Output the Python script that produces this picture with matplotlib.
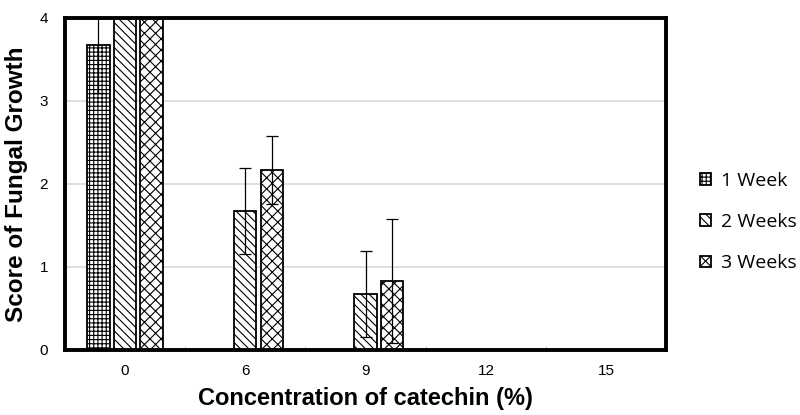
import matplotlib
matplotlib.use('Agg')
import matplotlib.pyplot as plt
import numpy as np

concentrations = ['0', '6', '9', '12', '15']
week_labels = ['1 Week', '2 Weeks', '3 Weeks']
week1 = [3.67, 0, 0, 0, 0]
week2 = [4.0, 1.67, 0.67, 0, 0]
week3 = [4.0, 2.17, 0.83, 0, 0]
week1_err = [0.58, 0, 0, 0, 0]
week2_err = [0, 0.52, 0.52, 0, 0]
week3_err = [0, 0.41, 0.75, 0, 0]


def make_plot():
    plt.rcParams['hatch.linewidth'] = 0.8
    fig = plt.figure(figsize=(8, 4.15), dpi=100)
    ax = fig.add_axes([0.081, 0.157, 0.752, 0.8])

    x = np.arange(len(concentrations))
    width = 0.185
    offset = 0.22
    series = [week1, week2, week3]
    errors = [week1_err, week2_err, week3_err]
    hatches = ['++++', '\\\\\\\\', 'xxx']
    for i in range(3):
        ax.bar(x + (i - 1) * offset, series[i], width, color='white', edgecolor='black',
               hatch=hatches[i], linewidth=1.3, label=week_labels[i], zorder=2)
        yerr = np.array(errors[i])
        mask = yerr > 0
        ax.errorbar(x[mask] + (i - 1) * offset, np.array(series[i])[mask], yerr=yerr[mask],
                    fmt='none', ecolor='black', elinewidth=0.9, capsize=4, capthick=0.9, zorder=3)

    ax.set_xlim(-0.5, len(concentrations) - 0.5)
    ax.set_ylim(0, 4)
    ax.set_yticks([0, 1, 2, 3, 4])
    ax.set_xticks(x)
    ax.set_xticklabels(concentrations)
    ax.set_xticks(np.arange(len(concentrations) + 1) - 0.5, minor=True)
    ax.tick_params(axis='both', which='major', length=0, labelsize=11, pad=10)
    ax.tick_params(axis='y', pad=12)
    ax.tick_params(axis='x', which='minor', length=3, direction='in', color='#b0b0b0')
    ax.grid(axis='y', color='#d9d9d9', linewidth=1.2, zorder=0)
    ax.set_axisbelow(True)
    for side in ['left', 'right', 'top', 'bottom']:
        ax.spines[side].set_linewidth(2.8)
        ax.spines[side].set_color('black')

    ax.set_xlabel('Concentration of catechin (%)', fontsize=17, fontweight='bold', labelpad=7)
    ax.set_ylabel('Score of Fungal Growth', fontsize=17.5, fontweight='bold')
    ax.yaxis.set_label_coords(-0.062, 0.5)

    ax.legend(loc='center left', bbox_to_anchor=(1.027, 0.385), frameon=False,
              prop={'family': 'Open Sans', 'size': 14}, handlelength=0.55, handleheight=0.55,
              handletextpad=0.5, labelspacing=1.2)
    plt.savefig('out.png')
    plt.close()


def main():
    plt.rcParams['font.family'] = ['Liberation Sans', 'DejaVu Sans']
    make_plot()


if __name__ == '__main__':
    main()
